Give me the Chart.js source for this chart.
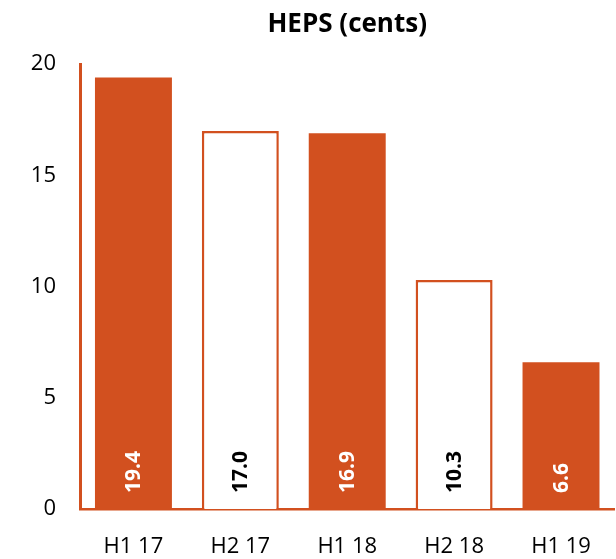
<!DOCTYPE html>
<html>
<head>
<meta charset="utf-8">
<script src="https://cdn.jsdelivr.net/npm/chart.js@4/dist/chart.umd.min.js"></script>
<style>
html,body{margin:0;padding:0;background:#fff;}
#wrap{width:616px;height:559px;position:relative;}
</style>
</head>
<body>
<div id="wrap"><canvas id="c" width="616" height="559"></canvas></div>
<script>
const categories = ["H1 17", "H2 17", "H1 18", "H2 18", "H1 19"];
const hepsValues = [19.4, 17.0, 16.9, 10.3, 6.6];
const valueLabels = ["19.4", "17.0", "16.9", "10.3", "6.6"];
const filledBar = [true, false, true, false, true];
const yTicks = [0, 5, 10, 15, 20];

const ORANGE = "#D2501F";
const FONT = "'Open Sans', 'Liberation Sans', sans-serif";

const labelPlugin = {
  id: "barLabels",
  afterDatasetsDraw(chart) {
    const ctx = chart.ctx;
    const meta = chart.getDatasetMeta(0);
    const base = chart.scales.y.getPixelForValue(0);
    meta.data.forEach((bar, i) => {
      ctx.save();
      ctx.translate(bar.x, base - 16);
      ctx.rotate(-Math.PI / 2);
      ctx.font = "bold 21px " + FONT;
      ctx.fillStyle = filledBar[i] ? "#FFFFFF" : "#000000";
      ctx.textAlign = "left";
      ctx.textBaseline = "middle";
      ctx.fillText(valueLabels[i], 0, 1);
      ctx.restore();
    });
  }
};

new Chart(document.getElementById("c"), {
  type: "bar",
  data: {
    labels: categories,
    datasets: [{
      data: hepsValues,
      backgroundColor: filledBar.map(f => f ? ORANGE : "#FFFFFF"),
      borderColor: ORANGE,
      borderWidth: filledBar.map(f => f ? 0 : 2.5),
      categoryPercentage: 1.0,
      barPercentage: 0.72
    }]
  },
  options: {
    responsive: false,
    animation: false,
    devicePixelRatio: 1,
    layout: { padding: { left: 0, right: 0, top: 0, bottom: 0 } },
    plugins: {
      legend: { display: false },
      tooltip: { enabled: false },
      title: {
        display: true,
        fullSize: false,
        text: "HEPS (cents)",
        color: "#000",
        font: { family: FONT, size: 26, weight: "bold" },
        padding: { top: 9, bottom: 24 }
      }
    },
    scales: {
      x: {
        grid: { display: false, drawTicks: false },
        border: { display: true, color: ORANGE, width: 2.5 },
        ticks: { color: "#000", font: { family: FONT, size: 22 }, padding: 25, maxRotation: 0 },
        afterFit(scale) { scale.height = 50; }
      },
      y: {
        min: 0,
        max: 20,
        grid: { display: false, drawTicks: false },
        border: { display: true, color: ORANGE, width: 3 },
        afterBuildTicks(scale) { scale.ticks = yTicks.map(v => ({ value: v })); },
        ticks: { color: "#000", font: { family: FONT, size: 22 }, padding: 24 },
        afterFit(scale) { scale.width = 80; }
      }
    }
  },
  plugins: [labelPlugin]
});
</script>
</body>
</html>
